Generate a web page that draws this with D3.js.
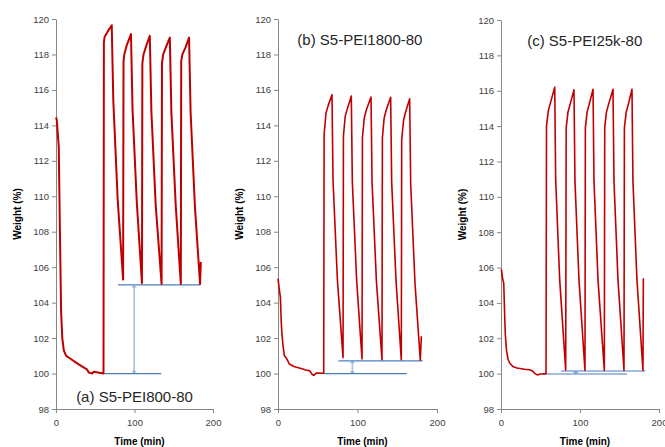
<!DOCTYPE html>
<html>
<head>
<meta charset="utf-8">
<script src="https://cdn.jsdelivr.net/npm/d3@7"></script>
<style>
  body { margin: 0; background: #fff; }
  svg { display: block; font-family: Arial, "Liberation Sans", sans-serif; }
  .axis path, .axis line { stroke: #868686; }
  .axis text { fill: #404040; font-size: 9.5px; }
  .title { font-size: 10px; font-weight: bold; fill: #000; }
</style>
</head>
<body>
<svg width="665" height="447"></svg>
<script>
// y axis ticks and x axis ticks shared by all three panels
var weightTicks = [98, 100, 102, 104, 106, 108, 110, 112, 114, 116, 118, 120];
var timeTicks = [0, 100, 200];

// (a) S5-PEI800-80
var timeA = [0, 1, 3.5, 5, 6.5, 8, 10, 13, 18, 26, 33, 39, 42, 46, 48, 55, 60.5,
  61, 62, 66, 71, 73, 78.6, 85.5,
  86, 87, 90, 95.5, 97.5, 103, 109.5,
  110, 111.5, 115, 119.5, 121.5, 127, 134.5,
  135, 136.5, 140, 145, 147, 152.5, 159,
  159.5, 161, 165, 169.5, 171.5, 177, 183.5, 184.5];
var weightA = [114.45, 114.3, 112.8, 108, 103.5, 102, 101.3, 101.0, 100.85, 100.6, 100.4, 100.25, 100.05, 100.0, 100.1, 100.05, 100.0,
  118.7, 119.0, 119.3, 119.65, 115.4, 109.8, 105.3,
  117.6, 118.0, 118.5, 119.15, 114.9, 109.6, 105.1,
  117.5, 118.0, 118.5, 119.05, 114.8, 109.5, 105.05,
  117.5, 118.0, 118.4, 118.95, 114.7, 109.5, 105.05,
  117.6, 118.0, 118.4, 118.95, 114.7, 109.4, 105.05, 106.3];

// (b) S5-PEI1800-80
var timeB = [0, 1.5, 3, 4, 5, 6.5, 8, 10, 11.5, 14, 20, 28, 35, 40, 43, 45, 48, 57.5,
  58, 60.4, 63, 67.9, 69.2, 74.7, 81.8,
  82.3, 84.5, 87, 92.2, 93.5, 99, 105.7,
  106.2, 108.5, 111, 117, 118.3, 123.8, 130.8,
  131.3, 133.5, 136, 141.7, 143, 148.5, 155.1,
  155.6, 158, 160.5, 165.6, 166.9, 172.3, 179, 180.3];
var weightB = [105.35, 104.8, 104.3, 103, 102.2, 101.5, 101, 100.9, 100.8, 100.55, 100.4, 100.3, 100.2, 100.15, 99.95, 99.9, 100.03, 100.02,
  113.5, 114.7, 115.1, 115.73, 110.9, 105.3, 100.9,
  113.4, 114.5, 114.9, 115.65, 110.8, 105.2, 100.82,
  113.3, 114.4, 114.85, 115.6, 110.8, 105.2, 100.78,
  113.3, 114.4, 114.85, 115.58, 110.8, 105.2, 100.78,
  113.2, 114.3, 114.75, 115.5, 110.7, 105.1, 100.75, 102.1];

// (c) S5-PEI25k-80
var timeC = [0.5, 2, 3.5, 4.5, 5.5, 7, 9, 11, 15, 20, 30, 36, 40, 43, 46, 50, 57,
  57.6, 60, 62.5, 68, 69.2, 74.3, 81.9,
  82.5, 84.8, 87.3, 92.4, 93.6, 98.7, 106.3,
  106.8, 109, 111.5, 116.5, 117.7, 122.8, 130.8,
  131.3, 133.5, 136, 141.8, 143, 148.1, 155.7,
  156.2, 158.5, 161, 165.8, 167, 172.1, 179.7, 180.2];
var weightC = [105.9, 105.4, 105.1, 103.5, 102.2, 101.3, 100.8, 100.6, 100.4, 100.32, 100.25, 100.22, 100.15, 100.0, 99.93, 99.98, 100.0,
  114.0, 114.9, 115.3, 116.2, 111.0, 105.3, 100.2,
  113.9, 114.8, 115.2, 116.05, 110.9, 105.3, 100.18,
  113.9, 114.8, 115.2, 116.08, 110.9, 105.3, 100.18,
  113.9, 114.8, 115.2, 116.08, 110.9, 105.3, 100.18,
  113.9, 114.8, 115.2, 116.08, 110.9, 105.3, 100.18, 105.4];

// blue guide lines: [t0, t1, weight], arrow: [t, from, to]
var guidesA = [[61, 134, 100.0], [79, 184, 105.0]];
var arrowA = [99.6, 100.05, 104.95];
var guidesB = [[58, 162, 100.0], [76, 182, 100.72]];
var arrowB = [93.5, 100.03, 100.69];
var guidesC = [[53, 159.5, 99.98], [76, 182.7, 100.15]];
var arrowC = [94.5, 99.99, 100.14];

var labels = ["(a) S5-PEI800-80", "(b) S5-PEI1800-80", "(c) S5-PEI25k-80"];
// label anchor in data coords [t, weight]
var labelPos = [[100, 98.4], [103, 118.55], [106, 118.55]];

var panels = [
  { left: 56, right: 213, top: 19, t: timeA, w: weightA, guides: guidesA, arrow: arrowA, lw: 2 },
  { left: 278, right: 437, top: 19, t: timeB, w: weightB, guides: guidesB, arrow: arrowB, lw: 1.6 },
  { left: 501, right: 659, top: 20, t: timeC, w: weightC, guides: guidesC, arrow: arrowC, lw: 1.6 }
];
var bottom = 409;

var svg = d3.select("svg");

var defs = svg.append("defs");
["s", "e"].forEach(function (k) {
  defs.append("marker")
    .attr("id", "head-" + k)
    .attr("viewBox", "-5 -5 10 10")
    .attr("refX", 0).attr("refY", 0)
    .attr("markerWidth", 5).attr("markerHeight", 5)
    .attr("markerUnits", "userSpaceOnUse")
    .attr("orient", "auto-start-reverse")
    .append("path")
    .attr("d", "M-4,-4 L0,0 L-4,4")
    .attr("fill", "none")
    .attr("stroke", "#4a7ebb")
    .attr("stroke-width", 1.6);
});

panels.forEach(function (p, i) {
  var x = d3.scaleLinear().domain([0, 200]).range([p.left, p.right]);
  var y = d3.scaleLinear().domain([98, 120]).range([bottom, p.top]);
  var g = svg.append("g");

  g.append("g")
    .attr("class", "axis")
    .attr("transform", "translate(0," + bottom + ")")
    .call(d3.axisBottom(x).tickValues(timeTicks).tickSize(4).tickPadding(6).tickSizeOuter(0));

  g.append("g")
    .attr("class", "axis")
    .attr("transform", "translate(" + p.left + ",0)")
    .call(d3.axisLeft(y).tickValues(weightTicks).tickSize(4).tickPadding(3).tickSizeOuter(0));

  g.append("text")
    .attr("class", "title")
    .attr("x", (p.left + p.right) / 2 + 5)
    .attr("y", 445)
    .attr("text-anchor", "middle")
    .text("Time (min)");

  g.append("text")
    .attr("class", "title")
    .attr("transform", "translate(" + (p.left - 35) + "," + ((bottom + p.top) / 2) + ") rotate(-90)")
    .attr("text-anchor", "middle")
    .text("Weight (%)");

  // blue reference lines
  g.selectAll(".guide")
    .data(p.guides)
    .enter().append("line")
    .attr("x1", function (d) { return x(d[0]); })
    .attr("x2", function (d) { return x(d[1]); })
    .attr("y1", function (d) { return y(d[2]); })
    .attr("y2", function (d) { return y(d[2]); })
    .attr("stroke", "#4a7ebb")
    .attr("stroke-width", 1.2);

  g.append("line")
    .attr("x1", x(p.arrow[0])).attr("x2", x(p.arrow[0]))
    .attr("y1", y(p.arrow[1])).attr("y2", y(p.arrow[2]))
    .attr("stroke", "#a7c2e2")
    .attr("stroke-width", 1.6)
    .attr("marker-start", "url(#head-s)")
    .attr("marker-end", "url(#head-e)");

  var line = d3.line()
    .x(function (d) { return x(d[0]); })
    .y(function (d) { return y(d[1]); });

  g.append("path")
    .datum(d3.zip(p.t, p.w))
    .attr("d", line)
    .attr("fill", "none")
    .attr("stroke", "#c00000")
    .attr("stroke-width", p.lw)
    .attr("stroke-linejoin", "round");

  g.append("text")
    .attr("x", x(labelPos[i][0]))
    .attr("y", y(labelPos[i][1]))
    .attr("text-anchor", "middle")
    .attr("font-size", 15)
    .attr("fill", "#262626")
    .text(labels[i]);
});
</script>
</body>
</html>
